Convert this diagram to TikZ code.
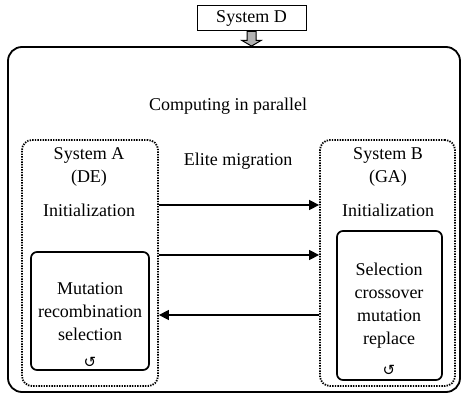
\documentclass[tikz,border=0pt]{standalone}
\usepackage{fontspec}
\setmainfont{Liberation Serif}
\newfontfamily\symfont{DejaVu Sans}
\usetikzlibrary{arrows.meta,calc}
\begin{document}
\begin{tikzpicture}[x=1pt,y=-1pt,
  lab/.style={font=\fontsize{18}{23}\selectfont, align=center, inner sep=0pt},
  outerbox/.style={draw, line width=1.8pt, rounded corners=14pt, inner sep=0pt},
  dotbox/.style={draw, line width=1.8pt, dash pattern=on 1.4pt off 1.2pt, rounded corners=10pt, inner sep=0pt},
  innerbox/.style={draw, line width=1.7pt, rounded corners=6pt, inner sep=0pt},
  topbox/.style={draw, line width=1pt, inner sep=0pt, minimum width=109pt, minimum height=25pt, font=\fontsize{18}{20}\selectfont},
  arr/.style={line width=1.5pt, -{Triangle[length=10pt,width=10pt]}},
  loopsym/.style={font=\symfont\fontsize{15}{15}\selectfont, inner sep=0pt}
]
\useasboundingbox (0,0) rectangle (466,398);
% containers
\node[outerbox, minimum width=452pt, minimum height=345pt] (outer) at (234,219.5) {};
\node[dotbox, minimum width=136pt, minimum height=246pt] (A) at (90,263) {};
\node[dotbox, minimum width=135pt, minimum height=246pt] (B) at (387.5,263) {};
\node[innerbox, minimum width=118pt, minimum height=118pt] (Ain) at (90,311) {};
\node[innerbox, minimum width=105pt, minimum height=149pt] (Bin) at (389.5,305.5) {};
% top system
\node[topbox] (D) at (251.5,18.5) {System D};
\draw[line width=1pt, fill=gray!60] ($(D.south)+(-4.5,0)$) -- ++(0,9) -- ++(-5,0) -- (D.south |- outer.north) -- ($(D.south)+(9.5,9)$) -- ++(-5,0) -- ++(0,-9) -- cycle;
% labels
\node[lab] (cp) at (228,106) {Computing in parallel};
\node[lab] (sa) at (89,167) {System A\\(DE)};
\node[lab] (ia) at (89,210) {Initialization};
\node[lab] (sb) at (388,167) {System B\\(GA)};
\node[lab] (ib) at (388,210) {Initialization};
\node[lab] (em) at (238,161) {Elite migration};
\node[lab] (ta) at (90,312) {Mutation\\recombination\\selection};
\node[lab] (tb) at (389,306) {Selection\\crossover\\mutation\\replace};
\node[loopsym] (la) at (90,362) {↺};
\node[loopsym] (lb) at (389,370) {↺};
% arrows
\coordinate (r1) at (0,205);
\coordinate (r2) at (0,255);
\coordinate (r3) at (0,315);
\draw[arr] (A.east |- r1) -- (B.west |- r1);
\draw[arr] (A.east |- r2) -- (B.west |- r2);
\draw[arr] (B.west |- r3) -- (A.east |- r3);
\end{tikzpicture}
\end{document}
